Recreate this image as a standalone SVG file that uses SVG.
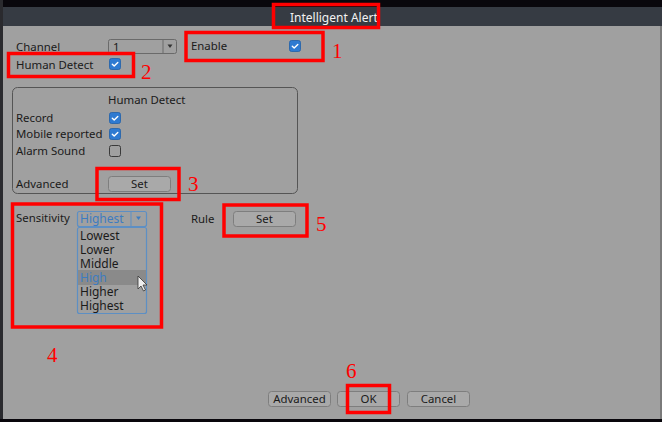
<svg xmlns="http://www.w3.org/2000/svg" width="662" height="422" viewBox="0 0 662 422">
<defs>
<style>
.t{font-family:"Noto Sans","Open Sans","DejaVu Sans",sans-serif;font-size:11.4px;fill:#1a1a1a}
.l{font-family:"Noto Sans","Open Sans","DejaVu Sans",sans-serif;font-size:12px;fill:#1a1a1a}
.w{font-family:"Noto Sans","Open Sans","DejaVu Sans",sans-serif;font-size:12px;fill:#f2f2f2}
.b{font-family:"Noto Sans","Open Sans","DejaVu Sans",sans-serif;font-size:12px;fill:#3d7cc0}
.n{font-family:"Liberation Serif","Times New Roman",serif;font-size:21px;fill:#ff0000}
.red{fill:none;stroke:#ff0000;stroke-width:3.5}
.btn{fill:#a9a9a9;stroke:#7e7e7e;stroke-width:1}
.cb{fill:#2e7ad1;stroke:#1f5fa8;stroke-width:0.8}
.ck{fill:none;stroke:#ffffff;stroke-width:1.4;stroke-linecap:round;stroke-linejoin:round}
.cbo{fill:#a0a0a0;stroke:#3a3a3a;stroke-width:1}
.dd{fill:#a0a0a0;stroke:#6a6a6a;stroke-width:1}
.ddb{fill:#a0a0a0;stroke:#5d8fc4;stroke-width:1.2}
</style>
<symbol id="chk" viewBox="0 0 12 12"><rect x="0.5" y="0.5" width="11" height="11" rx="2" class="cb"/><path d="M3.3 6.2 L5.2 8 L8.8 4.4" class="ck"/></symbol>
</defs>
<rect x="0" y="0" width="662" height="422" fill="#a0a0a0"/>
<rect x="0" y="0" width="662" height="7" fill="#09070c"/>
<rect x="0" y="7" width="662" height="19" fill="#363b43"/>
<rect x="0" y="0" width="3" height="422" fill="#2a2a2e"/>
<rect x="660" y="26" width="2" height="396" fill="#7a7a7a"/>
<rect x="0" y="419" width="662" height="3" fill="#09070c"/>

<g id="title"><text x="290" y="22" class="w">Intelligent Alert</text><rect x="273.5" y="4.5" width="105" height="23" class="red"/></g>

<g id="channel"><text x="16" y="51" class="t">Channel</text>
<rect x="108.5" y="39.5" width="68" height="14" rx="2" class="dd"/><line x1="163" y1="40" x2="163" y2="53" stroke="#6a6a6a"/>
<text x="113" y="51" class="t">1</text><path d="M167.5 44.5 L172.5 44.5 L170 48 Z" fill="#333"/></g>

<g id="enable"><text x="191" y="50" class="t">Enable</text><use href="#chk" x="289" y="40" width="12" height="12"/>
<rect x="186" y="32.5" width="137" height="28" class="red"/><text x="332" y="58" class="n">1</text></g>

<g id="humandetect"><text x="16" y="69" class="t">Human Detect</text><use href="#chk" x="109" y="58" width="12" height="12"/>
<rect x="8.5" y="53.5" width="125" height="23" class="red"/><text x="141" y="79" class="n">2</text></g>

<g id="group"><rect x="12.5" y="87.5" width="285" height="106" rx="5" fill="none" stroke="#555" stroke-width="1"/>
<text x="108" y="104" class="t">Human Detect</text>
<text x="16" y="122" class="t">Record</text><use href="#chk" x="109" y="112" width="12" height="12"/>
<text x="16" y="138" class="t">Mobile reported</text><use href="#chk" x="109" y="128" width="12" height="12"/>
<text x="16" y="155" class="t">Alarm Sound</text><rect x="109.5" y="145.5" width="11" height="11" rx="2" class="cbo"/>
<text x="16" y="188" class="t">Advanced</text>
<rect x="108.5" y="176.5" width="62" height="15" rx="3" class="btn"/><text x="139.5" y="188" class="t" text-anchor="middle">Set</text>
<rect x="97" y="168.5" width="82" height="31" class="red"/><text x="188" y="191" class="n">3</text></g>

<g id="sensitivity"><text x="16" y="222" class="t">Sensitivity</text>
<rect x="77.5" y="211.5" width="69" height="15" rx="2" class="ddb"/><line x1="131" y1="212" x2="131" y2="226" stroke="#5d8fc4"/>
<text x="80" y="223" class="b">Highest</text><path d="M136 216.5 L141 216.5 L138.5 220 Z" fill="#3d7cc0"/>
<rect x="77.5" y="227.5" width="69" height="86" rx="2" fill="#a0a0a0" stroke="#5d8fc4" stroke-width="1.2"/>
<rect x="78" y="270" width="68" height="15" fill="#8a8a8a"/>
<text x="80" y="240" class="l">Lowest</text>
<text x="80" y="254" class="l">Lower</text>
<text x="80" y="268" class="l">Middle</text>
<text x="80" y="282" class="b">High</text>
<text x="80" y="296" class="l">Higher</text>
<text x="80" y="310" class="l">Highest</text>
<path d="M138 276 L138 289 L141 286 L143.5 291 L145.5 290 L143 285 L147 285 Z" fill="#eeeeee" stroke="#333" stroke-width="0.8"/>
<rect x="12.5" y="204" width="149" height="123" class="red"/><text x="47" y="362" class="n">4</text></g>

<g id="rule"><text x="191" y="223" class="t">Rule</text>
<rect x="233.5" y="211.5" width="62" height="15" rx="3" class="btn"/><text x="264.5" y="223" class="t" text-anchor="middle">Set</text>
<rect x="224" y="205" width="83" height="31" class="red"/><text x="316" y="231" class="n">5</text></g>

<g id="buttons">
<rect x="268.5" y="391.5" width="62" height="15" rx="3" class="btn"/><text x="299.5" y="403" class="t" text-anchor="middle">Advanced</text>
<rect x="337.5" y="391.5" width="62" height="15" rx="3" class="btn"/><text x="368.5" y="403" class="t" text-anchor="middle">OK</text>
<rect x="407.5" y="391.5" width="62" height="15" rx="3" class="btn"/><text x="438.5" y="403" class="t" text-anchor="middle">Cancel</text>
<rect x="347.5" y="385.5" width="42" height="27" class="red"/><text x="346" y="378" class="n">6</text></g>
<g id="connectors"/>
</svg>
